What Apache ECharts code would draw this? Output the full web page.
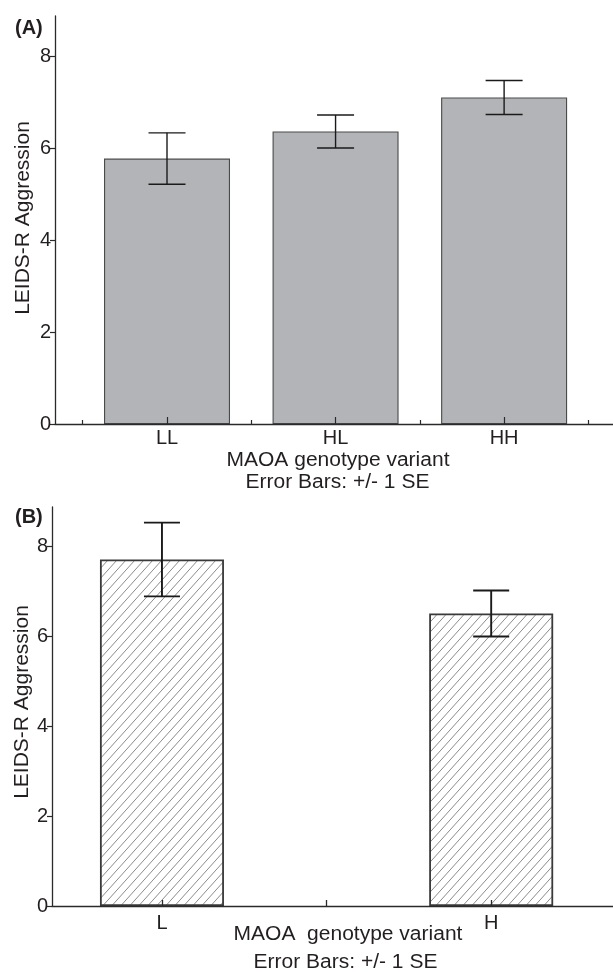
<!DOCTYPE html>
<html><head><meta charset="utf-8">
<script src="https://cdn.jsdelivr.net/npm/echarts@6/dist/echarts.min.js"></script>
<style>html,body{margin:0;padding:0;background:#fff}#c{width:613px;height:972px}</style>
</head><body><div id="c"></div>
<script>
// ---- data ----
const categoriesA = ['LL', 'HL', 'HH'];
const meansA = [5.78, 6.37, 7.11];
const seA = [0.56, 0.36, 0.37];
const categoriesB = ['L', '', 'H'];
const meansB = [7.70, null, 6.50];
const seB = [0.82, null, 0.51];
const yTicks = [0, 2, 4, 6, 8];
const yMinorTicks = [1, 3, 5, 7];
const yTitle = 'LEIDS-R Aggression';
const xTitleA = 'MAOA genotype variant';
const xTitleB = 'MAOA  genotype variant';
const errNote = 'Error Bars: +/- 1 SE';

// ---- styles ----
const FONT = '"Liberation Sans", Arial, Helvetica, sans-serif';
const TXT = '#231f20';
const AX = '#2a2a2a';

const TW = 9, TH = 10;
const pc = document.createElement('canvas');
pc.width = TW; pc.height = TH;
const ctx = pc.getContext('2d');
ctx.fillStyle = '#ffffff'; ctx.fillRect(0, 0, TW, TH);
ctx.strokeStyle = '#6e6e6e'; ctx.lineWidth = 0.8;
ctx.beginPath();
ctx.moveTo(-TW * 0.2, TH * 1.2); ctx.lineTo(TW * 1.2, -TH * 0.2);
ctx.moveTo(-TW * 0.2, TH * 0.2); ctx.lineTo(TW * 0.2, -TH * 0.2);
ctx.moveTo(TW * 0.8, TH * 1.2); ctx.lineTo(TW * 1.2, TH * 0.8);
ctx.stroke();

const posA = categoriesA.map((c, i) => i + 1);
const posB = categoriesB.map((c, i) => i + 1);
const bndA = categoriesA.map((c, i) => i + 0.5).concat([categoriesA.length + 0.5]);

function errRender(capW, lw) {
  return function (params, api) {
    const x = api.value(0), lo = api.value(1), hi = api.value(2);
    const a = api.coord([x, hi]), b = api.coord([x, lo]);
    const style = { stroke: '#1a1a1a', lineWidth: lw };
    return { type: 'group', children: [
      { type: 'line', shape: { x1: a[0], y1: a[1], x2: b[0], y2: b[1] }, style },
      { type: 'line', shape: { x1: a[0] - capW / 2, y1: a[1], x2: a[0] + capW / 2, y2: a[1] }, style },
      { type: 'line', shape: { x1: b[0] - capW / 2, y1: b[1], x2: b[0] + capW / 2, y2: b[1] }, style }
    ]};
  };
}

const barDataA = meansA.map((v, i) => [posA[i], v]);
const errDataA = meansA.map((v, i) => [posA[i], v - seA[i], v + seA[i]]);
const barDataB = meansB.map((v, i) => [posB[i], v]).filter(d => d[1] != null);
const errDataB = meansB.map((v, i) => v == null ? null : [posB[i], v - seB[i], v + seB[i]]).filter(d => d);

const lbl = { fontSize: 20, color: TXT, fontFamily: FONT };

function yAxes(grid, max) {
  return [
    { gridIndex: grid, type: 'value', min: 0, max: max, z: 5,
      axisLine: { show: true, onZero: false, lineStyle: { color: AX, width: 1.3 } },
      axisTick: { show: true, customValues: yTicks, length: 5, lineStyle: { color: AX, width: 1.2 } },
      axisLabel: Object.assign({ customValues: yTicks, margin: 4 }, lbl),
      splitLine: { show: false } },
    { gridIndex: grid, type: 'value', min: 0, max: max, z: 5,
      axisLine: { show: false },
      axisTick: { show: true, customValues: yMinorTicks, length: 3, lineStyle: { color: AX, width: 1.1 } },
      axisLabel: { show: false }, splitLine: { show: false } }
  ];
}

function txt(x, y, text, extra) {
  return Object.assign({ type: 'text', x: x, y: y, scaleX: 1.05,
    style: { text: text, font: '20px ' + FONT, fill: TXT, align: 'center', verticalAlign: 'middle' } }, extra || {});
}

const option = {
  animation: false,
  backgroundColor: '#fff',
  textStyle: { fontFamily: FONT },
  grid: [
    { left: 55, top: 16, width: 558, height: 408 },
    { left: 52, top: 507, width: 561, height: 399 }
  ],
  xAxis: [
    { gridIndex: 0, type: 'value', min: 0.3355, max: 3.646, z: 5,
      axisLine: { show: true, onZero: false, lineStyle: { color: AX, width: 1.3 } },
      axisTick: { show: true, inside: true, length: 7, customValues: posA, lineStyle: { color: AX, width: 1.2 } },
      axisLabel: Object.assign({ customValues: posA, margin: 4, formatter: v => categoriesA[Math.round(v) - 1] }, lbl),
      splitLine: { show: false } },
    { gridIndex: 0, type: 'value', min: 0.3355, max: 3.646, z: 5,
      axisLine: { show: false },
      axisTick: { show: true, length: 4, customValues: bndA, lineStyle: { color: AX, width: 1.2 } },
      axisLabel: { show: false }, splitLine: { show: false } },
    { gridIndex: 1, type: 'value', min: 0.332, max: 3.74, z: 5,
      axisLine: { show: true, onZero: false, lineStyle: { color: AX, width: 1.3 } },
      axisTick: { show: true, inside: true, length: 6, customValues: posB, lineStyle: { color: AX, width: 1.3 } },
      axisLabel: Object.assign({ customValues: posB, margin: 7, formatter: v => categoriesB[Math.round(v) - 1] }, lbl),
      splitLine: { show: false } }
  ],
  yAxis: yAxes(0, 8.885).concat(yAxes(1, 8.867)),
  series: [
    { type: 'bar', xAxisIndex: 0, yAxisIndex: 0, data: barDataA, barWidth: 126,
      itemStyle: { color: '#b3b4b7', borderColor: '#4a4a4a', borderWidth: 1.1 } },
    { type: 'custom', xAxisIndex: 0, yAxisIndex: 0, data: errDataA, z: 6,
      renderItem: errRender(37, 1.4) },
    { type: 'bar', xAxisIndex: 2, yAxisIndex: 2, data: barDataB, barWidth: 124,
      itemStyle: { color: { image: pc, repeat: 'repeat' }, borderColor: '#3a3a3a', borderWidth: 1.8 } },
    { type: 'custom', xAxisIndex: 2, yAxisIndex: 2, data: errDataB, z: 6,
      renderItem: errRender(36, 1.9) }
  ],
  graphic: [
    { type: 'text', left: 15, top: 18, style: { text: '(A)', font: 'bold 20px ' + FONT, fill: TXT } },
    { type: 'text', left: 15, top: 507, style: { text: '(B)', font: 'bold 20px ' + FONT, fill: TXT } },
    txt(23, 218, yTitle, { rotation: Math.PI / 2 }),
    txt(22, 702, yTitle, { rotation: Math.PI / 2 }),
    txt(338, 460, xTitleA),
    txt(337.5, 482, errNote),
    txt(348, 934, xTitleB),
    txt(345.5, 962, errNote)
  ]
};

const chart = echarts.init(document.getElementById('c'), null, { renderer: 'canvas' });
chart.setOption(option);
</script>
</body></html>
